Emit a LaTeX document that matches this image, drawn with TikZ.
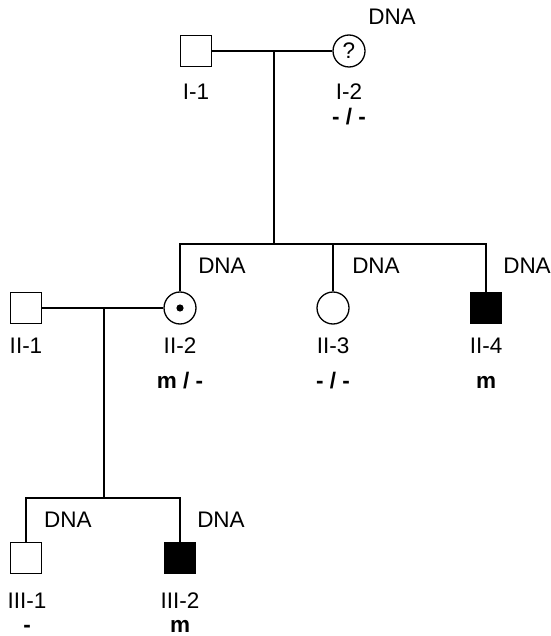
\documentclass[tikz,border=0pt]{standalone}
\usepackage{fontspec}
\setmainfont{Liberation Sans}
\begin{document}
\begin{tikzpicture}[x=1pt,y=-1pt,
  every node/.style={font=\fontsize{22.5}{27}\selectfont},
  ln/.style={line width=1.3pt},
  male/.style={draw,line width=1.3pt,rectangle,minimum size=31pt,inner sep=0pt},
  female/.style={draw,line width=1.3pt,circle,minimum size=32pt,inner sep=0pt},
  aff/.style={fill=black},
  lbl/.style={inner sep=0pt,anchor=base},
  geno/.style={inner sep=0pt,anchor=base,font=\fontsize{22.5}{27}\selectfont\bfseries},
  dna/.style={inner sep=0pt,anchor=base}
]
\useasboundingbox (0,0) rectangle (550,636);

% Generation I
\node[male] (I1) at (196,51) {};
\node[female] (I2) at (349,51) {?};
\node[lbl] (lI1) at (196,100) {I-1};
\node[lbl] (lI2) at (349,100) {I-2};
\node[geno] (gI2) at (349,125) {- / -};
\node[dna] (dI2) at (392,25) {DNA};

% Generation II
\node[male] (II1) at (26,308) {};
\node[female] (II2) at (180,308) {};
\fill (II2.center) circle (3.6pt);
\node[female] (II3) at (333,308) {};
\node[male,aff] (II4) at (486,308) {};
\node[lbl] (lII1) at (26,353) {II-1};
\node[lbl] (lII2) at (180,353) {II-2};
\node[lbl] (lII3) at (333,353) {II-3};
\node[lbl] (lII4) at (486,353) {II-4};
\node[geno] (gII2) at (180,388) {m / -};
\node[geno] (gII3) at (333,388) {- / -};
\node[geno] (gII4) at (486,388) {m};
\node[dna] (dII2) at (222,273) {DNA};
\node[dna] (dII3) at (376,273) {DNA};
\node[dna] (dII4) at (527,273) {DNA};

% Generation III
\node[male] (III1) at (26,558) {};
\node[male,aff] (III2) at (180,558) {};
\node[lbl] (lIII1) at (27,608) {III-1};
\node[lbl] (lIII2) at (180,608) {III-2};
\node[geno] (gIII1) at (27,632) {-};
\node[geno] (gIII2) at (180,632) {m};
\node[dna] (dIII1) at (68,527) {DNA};
\node[dna] (dIII2) at (221,527) {DNA};

% Connectors
\coordinate (m1) at (274,51);
\coordinate (s1) at (274,244);
\coordinate (m2) at (104,308);
\coordinate (s2) at (104,498);

\draw[ln] (I1) -- (I2);
\draw[ln] (m1) -- (s1);
\draw[ln] (II2.north) -- (II2.north |- s1) -- (II4.north |- s1) -- (II4.north);
\draw[ln] (II3.north) -- (II3.north |- s1);

\draw[ln] (II1) -- (II2);
\draw[ln] (m2) -- (s2);
\draw[ln] (III1.north) -- (III1.north |- s2) -- (III2.north |- s2) -- (III2.north);
\end{tikzpicture}
\end{document}
